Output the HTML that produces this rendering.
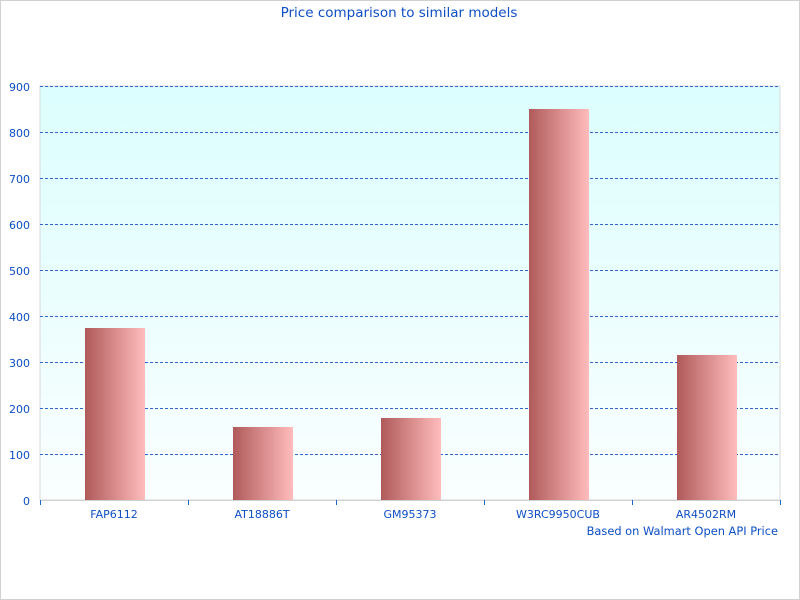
<!DOCTYPE html>
<html><head><style>body{margin:0}svg{display:block}text{font-family:"DejaVu Sans",sans-serif;fill:#0d4fc4;font-size:11px}</style></head><body>
<svg width="800" height="600" xmlns="http://www.w3.org/2000/svg">
<defs>
<linearGradient id="bg" x1="0" y1="0" x2="0" y2="1"><stop offset="0" stop-color="#dcfefe"/><stop offset="1" stop-color="#fafefe"/></linearGradient>
<linearGradient id="bar" x1="0" y1="0" x2="1" y2="0"><stop offset="0" stop-color="#b05a5a"/><stop offset="1" stop-color="#ffbcbc"/></linearGradient>
</defs>
<rect x="0.5" y="0.5" width="799" height="599" fill="#fff" stroke="#d0d0d0"/>
<text x="399" y="17" text-anchor="middle" style="font-size:13.5px">Price comparison to similar models</text>
<rect x="40" y="86" width="740" height="414" fill="url(#bg)" stroke="#d8d8d8"/>
<g stroke="#3366cc" stroke-dasharray="3,2" stroke-width="1">
<line x1="40" x2="780" y1="86.5" y2="86.5"/><line x1="40" x2="780" y1="132.5" y2="132.5"/><line x1="40" x2="780" y1="178.5" y2="178.5"/><line x1="40" x2="780" y1="224.5" y2="224.5"/><line x1="40" x2="780" y1="270.5" y2="270.5"/><line x1="40" x2="780" y1="316.5" y2="316.5"/><line x1="40" x2="780" y1="362.5" y2="362.5"/><line x1="40" x2="780" y1="408.5" y2="408.5"/><line x1="40" x2="780" y1="454.5" y2="454.5"/>
</g>
<rect x="85" y="328" width="60" height="172" fill="url(#bar)"/>
<rect x="233" y="427" width="60" height="73" fill="url(#bar)"/>
<rect x="381" y="418" width="60" height="82" fill="url(#bar)"/>
<rect x="529" y="109" width="60" height="391" fill="url(#bar)"/>
<rect x="677" y="355" width="60" height="145" fill="url(#bar)"/>
<line x1="40" x2="780" y1="500.5" y2="500.5" stroke="#d0d0d0"/>
<g stroke="#1a66cc"><line x1="40.5" x2="40.5" y1="500" y2="505"/><line x1="188.5" x2="188.5" y1="500" y2="505"/><line x1="336.5" x2="336.5" y1="500" y2="505"/><line x1="484.5" x2="484.5" y1="500" y2="505"/><line x1="632.5" x2="632.5" y1="500" y2="505"/><line x1="780.5" x2="780.5" y1="500" y2="505"/></g>
<g text-anchor="end"><text x="30" y="91">900</text><text x="30" y="137">800</text><text x="30" y="183">700</text><text x="30" y="229">600</text><text x="30" y="275">500</text><text x="30" y="321">400</text><text x="30" y="367">300</text><text x="30" y="413">200</text><text x="30" y="459">100</text><text x="30" y="505">0</text></g>
<g text-anchor="middle"><text x="114" y="518">FAP6112</text><text x="262" y="518">AT18886T</text><text x="410" y="518">GM95373</text><text x="558" y="518">W3RC9950CUB</text><text x="706" y="518">AR4502RM</text></g>
<text x="778" y="535" text-anchor="end" style="font-size:11.4px">Based on Walmart Open API Price</text>
</svg>
</body></html>
